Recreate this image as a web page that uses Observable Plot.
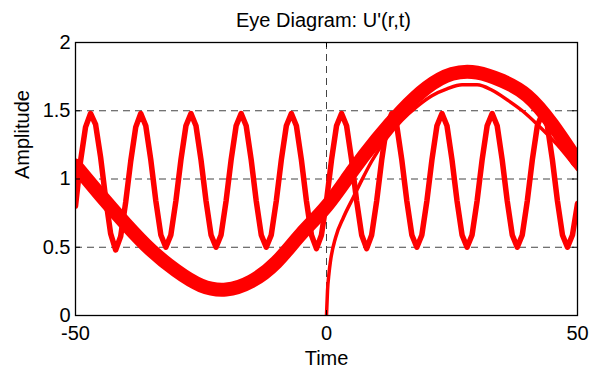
<!DOCTYPE html>
<html>
<head>
<meta charset="utf-8">
<script src="https://cdn.jsdelivr.net/npm/d3@7"></script>
<script src="https://cdn.jsdelivr.net/npm/@observablehq/plot@0.6"></script>
<style>
  body { margin: 0; background: #fff; }
</style>
</head>
<body>
<div id="chart"></div>
<script>
// Labels and ticks
const title = "Eye Diagram: U'(r,t)";
const xLabel = "Time";
const yLabel = "Amplitude";
const xTicks = [-50, 0, 50];
const xTickLabels = ["-50", "0", "50"];
const yTicks = [0, 0.5, 1, 1.5, 2];
const yTickLabels = ["0", "0.5", "1", "1.5", "2"];

// Fast carrier trace, one sample per time unit from -50 to 50
const carrierTime = d3.range(-50, 51);
const carrier = [
  0.80, 1.13, 1.38, 1.48, 1.40, 1.16, 0.86, 0.60, 0.48, 0.58,
  0.83, 1.13, 1.38, 1.48, 1.39, 1.14, 0.84, 0.59, 0.50, 0.59,
  0.84, 1.14, 1.39, 1.48, 1.39, 1.14, 0.84, 0.59, 0.50, 0.59,
  0.84, 1.14, 1.39, 1.48, 1.39, 1.14, 0.84, 0.59, 0.50, 0.59,
  0.84, 1.14, 1.39, 1.48, 1.39, 1.14, 0.84, 0.59, 0.49, 0.59,
  0.84, 1.14, 1.39, 1.48, 1.39, 1.14, 0.84, 0.59, 0.49, 0.59,
  0.84, 1.14, 1.39, 1.48, 1.39, 1.14, 0.84, 0.59, 0.50, 0.59,
  0.84, 1.14, 1.39, 1.48, 1.39, 1.14, 0.84, 0.59, 0.50, 0.59,
  0.84, 1.14, 1.39, 1.48, 1.39, 1.14, 0.84, 0.59, 0.50, 0.59,
  0.84, 1.14, 1.39, 1.48, 1.39, 1.14, 0.84, 0.59, 0.50, 0.59,
  0.82
];

// Slow envelope bundle (overlaid periods), sampled every 5 time units
const envelopeTime = [-50, -45, -40, -35, -30, -25, -20, -15, -10, -5, 0,
                      5, 10, 15, 20, 25, 30, 35, 40, 45, 50];
const envelope = [1.10, 0.88, 0.67, 0.48, 0.33, 0.22, 0.19, 0.25, 0.39, 0.60, 0.80,
                  1.05, 1.29, 1.50, 1.67, 1.77, 1.78, 1.72, 1.61, 1.40, 1.13];

// Start-up trace beginning at t = 0
const startTime = [0, 0.2, 0.5, 0.8, 1.8, 3.4, 5.4, 7, 9, 12, 15, 18, 21, 24, 27, 30, 33, 36, 39, 42, 46, 50];
const startValue = [0.00, 0.18, 0.31, 0.40, 0.57, 0.72, 0.87, 0.99, 1.13, 1.30, 1.43, 1.53, 1.61, 1.66,
                    1.69, 1.69, 1.65, 1.58, 1.50, 1.40, 1.25, 1.07];

const W = 589, H = 371;
const mL = 75, mR = 12, mT = 42, mB = 56;
const frameW = W - mL - mR, frameH = H - mT - mB;
const red = "#ff0000";
const gridStyle = {stroke: "#444", strokeWidth: 1, strokeDasharray: "7,5"};
const tickLen = 5;

const chart = Plot.plot({
  width: W,
  height: H,
  marginLeft: mL,
  marginRight: mR,
  marginTop: mT,
  marginBottom: mB,
  style: {fontFamily: "'Liberation Sans', Arial, sans-serif", fontSize: "20px", background: "#fff", color: "#000"},
  x: {domain: [-50, 50], axis: null},
  y: {domain: [0, 2], axis: null},
  marks: [
    // dashed grid at interior ticks
    Plot.ruleX(xTicks.filter(v => v > -50 && v < 50), {...gridStyle}),
    Plot.ruleY(yTicks.filter(v => v > 0 && v < 2), {...gridStyle}),

    // traces
    Plot.line(envelope, {x: envelopeTime, y: envelope, curve: "natural", stroke: red, strokeWidth: 14, clip: true}),
    Plot.line(carrier, {x: carrierTime, y: carrier, stroke: red, strokeWidth: 5.5, clip: true}),
    Plot.line(startValue, {x: startTime, y: startValue, curve: "monotone-x", stroke: red, strokeWidth: 3.5, clip: true}),

    // inward tick marks on all four sides
    Plot.tickX(xTicks, {x: d => d, insetTop: frameH - tickLen, stroke: "#000"}),
    Plot.tickX(xTicks, {x: d => d, insetBottom: frameH - tickLen, stroke: "#000"}),
    Plot.tickY(yTicks, {y: d => d, insetRight: frameW - tickLen, stroke: "#000"}),
    Plot.tickY(yTicks, {y: d => d, insetLeft: frameW - tickLen, stroke: "#000"}),
    Plot.frame({stroke: "#000", strokeWidth: 1.3}),

    // tick labels
    Plot.text(xTickLabels, {x: xTicks, text: d => d, frameAnchor: "bottom", lineAnchor: "bottom", dy: 24, fill: "#000"}),
    Plot.text(yTickLabels, {y: yTicks, text: d => d, frameAnchor: "left", textAnchor: "end", dx: -5, fill: "#000"}),

    // title and axis labels
    Plot.text([title], {frameAnchor: "top", lineAnchor: "bottom", dy: -16, dx: -3, fill: "#000"}),
    Plot.text([xLabel], {frameAnchor: "bottom", lineAnchor: "bottom", dy: 49, fill: "#000"}),
    Plot.text([yLabel], {frameAnchor: "left", lineAnchor: "bottom", rotate: -90, dx: -47, fill: "#000"})
  ]
});

document.getElementById("chart").appendChild(chart);
</script>
</body>
</html>
